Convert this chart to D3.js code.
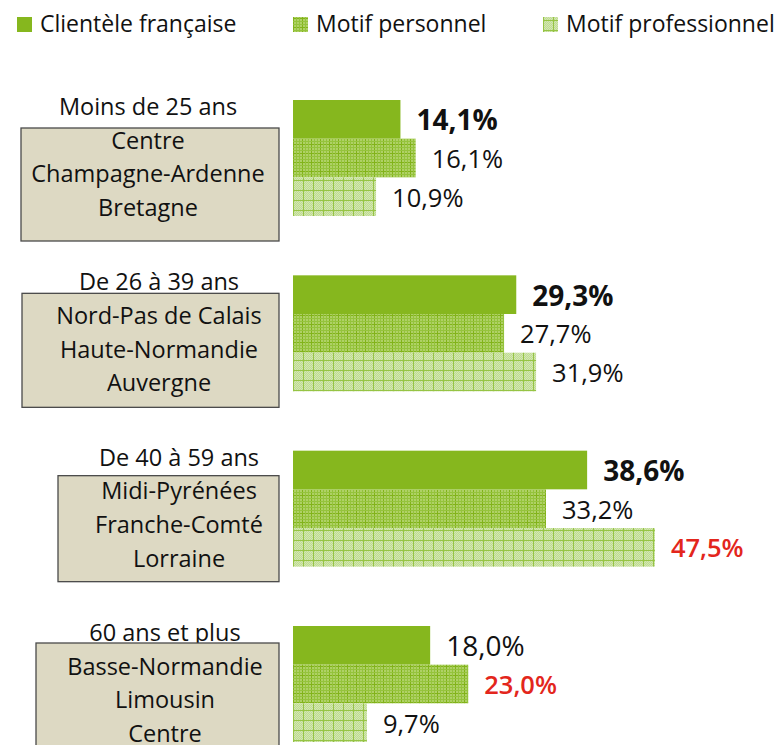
<!DOCTYPE html>
<html><head><meta charset="utf-8">
<script src="https://cdn.jsdelivr.net/npm/d3@7"></script>
<style>body{margin:0;background:#fff}svg{display:block}</style>
</head><body>
<svg id="c" width="782" height="745"></svg>
<script>
// ---------- data ----------
const ageGroups = ["Moins de 25 ans", "De 26 à 39 ans", "De 40 à 59 ans", "60 ans et plus"];
const regions = [
  ["Centre", "Champagne-Ardenne", "Bretagne"],
  ["Nord-Pas de Calais", "Haute-Normandie", "Auvergne"],
  ["Midi-Pyrénées", "Franche-Comté", "Lorraine"],
  ["Basse-Normandie", "Limousin", "Centre"]
];
const seriesNames = ["Clientèle française", "Motif personnel", "Motif professionnel"];
const clienteleFrancaise = [14.1, 29.3, 38.6, 18.0];
const motifPersonnel     = [16.1, 27.7, 33.2, 23.0];
const motifProfessionnel = [10.9, 31.9, 47.5, 9.7];
const redHighlights = [[2, 2], [3, 1]]; // [group, series]

// ---------- layout / style (not data) ----------
const boxLeft = [21, 22, 58, 36];
const boxTopOffset = [28, 18, 25, 17];
const boxHeight = [113, 114, 106, 130];
const textCenter = [148, 159, 179, 165];
const fontFam = "'Open Sans', 'DejaVu Sans', sans-serif";

const seriesValues = [clienteleFrancaise, motifPersonnel, motifProfessionnel];
const svg = d3.select("#c");
const defs = svg.append("defs");

// pattern: motif personnel (fine plaid)
const p1 = defs.append("pattern").attr("id", "pPers").attr("patternUnits", "userSpaceOnUse")
  .attr("x", 293).attr("y", 0).attr("width", 9).attr("height", 9);
p1.append("rect").attr("width", 9).attr("height", 9).attr("fill", "#afd166");
[0, 3, 6].forEach((o, i) => {
  const c = i === 0 ? "#82b31a" : "#95c33c";
  p1.append("rect").attr("x", o).attr("y", 0).attr("width", 1).attr("height", 9).attr("fill", c);
  p1.append("rect").attr("x", 0).attr("y", o).attr("width", 9).attr("height", 1).attr("fill", c);
});

// pattern: motif professionnel (pale checker + grid)
const p2 = defs.append("pattern").attr("id", "pPro").attr("patternUnits", "userSpaceOnUse")
  .attr("x", 293).attr("y", 0).attr("width", 10).attr("height", 10);
p2.append("rect").attr("width", 10).attr("height", 10).attr("fill", "#d3e7b3");
for (let i = 0; i < 10; i += 2) for (let j = 0; j < 10; j += 2) {
  p2.append("rect").attr("x", i).attr("y", j).attr("width", 1).attr("height", 1).attr("fill", "#bfdb90");
  p2.append("rect").attr("x", i + 1).attr("y", j + 1).attr("width", 1).attr("height", 1).attr("fill", "#bfdb90");
}
p2.append("rect").attr("x", 0).attr("y", 0).attr("width", 1).attr("height", 10).attr("fill", "#96c444");
p2.append("rect").attr("x", 0).attr("y", 0).attr("width", 10).attr("height", 1).attr("fill", "#96c444");

const fills = ["#86b71e", "url(#pPers)", "url(#pPro)"];

// ---------- scales ----------
const x = d3.scaleLinear().domain([0, 50]).range([293, 674]);
const yGroup = d3.scalePoint().domain(ageGroups).range([100, 626]);
const yBar = d3.scaleBand().domain(seriesNames).range([0, 116]);
const fmt = v => d3.format(".1f")(v).replace(".", ",") + "%";

// ---------- legend ----------
const legendX = [17, 293, 543];
const leg = svg.append("g");
seriesNames.forEach((s, i) => {
  leg.append("rect").attr("x", legendX[i]).attr("y", 17).attr("width", 15).attr("height", 15).attr("fill", fills[i]);
  leg.append("text").attr("x", legendX[i] + 23).attr("y", 31.5)
    .attr("font-family", fontFam).attr("font-size", 23).attr("fill", "#111").text(s);
});

// ---------- groups ----------
ageGroups.forEach((g, gi) => {
  const top = yGroup(g);
  const grp = svg.append("g");
  grp.append("text").attr("x", textCenter[gi]).attr("y", top + 15)
    .attr("text-anchor", "middle").attr("font-family", fontFam).attr("font-size", 23.5)
    .attr("fill", "#111").text(g);
  grp.append("rect").attr("x", boxLeft[gi]).attr("y", top + boxTopOffset[gi])
    .attr("width", 279 - boxLeft[gi]).attr("height", boxHeight[gi])
    .attr("fill", "#ddd9c3").attr("stroke", "#4a4a4a").attr("stroke-width", 1.3);
  regions[gi].forEach((r, ri) => {
    grp.append("text").attr("x", textCenter[gi]).attr("y", top + 48.5 + ri * 33.7)
      .attr("text-anchor", "middle").attr("font-family", fontFam).attr("font-size", 23.5)
      .attr("fill", "#111").text(r);
  });
  seriesNames.forEach((s, si) => {
    const v = seriesValues[si][gi];
    const by = top + yBar(s);
    grp.append("rect").attr("x", x(0)).attr("y", by)
      .attr("width", x(v) - x(0)).attr("height", yBar.bandwidth())
      .attr("fill", fills[si]);
    const red = redHighlights.some(h => h[0] === gi && h[1] === si);
    const first = si === 0;
    grp.append("text").attr("x", x(v) + 16).attr("y", by + yBar.bandwidth() / 2 + (first ? 11 : 10))
      .attr("font-family", fontFam)
      .attr("font-size", first ? 28 : 25.5)
      .attr("font-weight", first ? (gi === 3 ? 500 : 700) : (red ? 600 : 400))
      .attr("fill", red ? "#e3261c" : "#111")
      .text(fmt(v));
  });
});
</script>
</body></html>
